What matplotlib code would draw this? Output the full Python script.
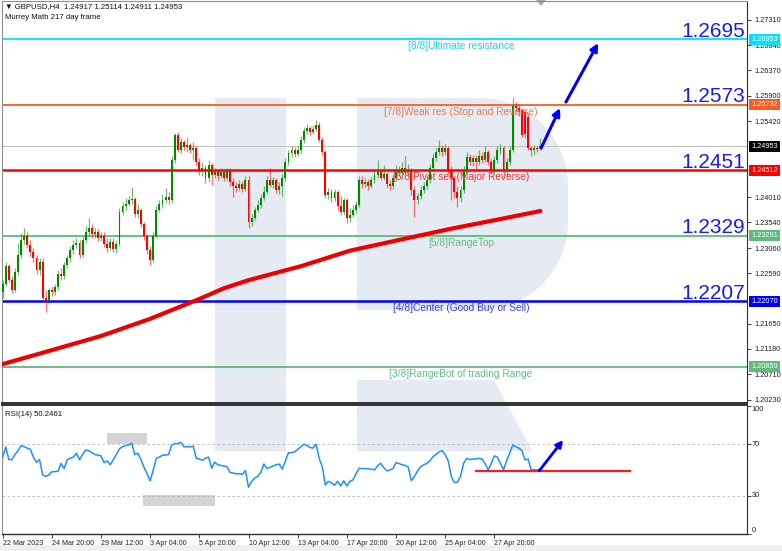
import matplotlib.pyplot as plt
import numpy as np
from matplotlib.patches import Polygon, Rectangle
from matplotlib.transforms import blended_transform_factory

plt.rcParams['font.family'] = ['Liberation Sans', 'DejaVu Sans']

# ---- GBPUSD H4 candles (22 Mar 2023 04:00 onwards) ----
opens = [
    1.2224, 1.2239, 1.2272, 1.2246, 1.2228, 1.2261, 1.2293, 1.2321, 1.2328, 1.2312,
    1.2299, 1.2287, 1.2265, 1.2280, 1.2213, 1.2209, 1.2228, 1.2224, 1.2233, 1.2258,
    1.2254, 1.2274, 1.2287, 1.2302, 1.2312, 1.2315, 1.2293, 1.2321, 1.2336, 1.2343,
    1.2332, 1.2336, 1.2325, 1.2328, 1.2314, 1.2306, 1.2317, 1.2304, 1.2314, 1.2373,
    1.2384, 1.2388, 1.2395, 1.2397, 1.2369, 1.2377, 1.2351, 1.2328, 1.2302, 1.2284,
    1.2328, 1.2377, 1.2388, 1.2395, 1.2401, 1.2395, 1.2470, 1.2517, 1.2489, 1.2504,
    1.2494, 1.2498, 1.2489, 1.2492, 1.2466, 1.2451, 1.2455, 1.2437, 1.2461, 1.2442,
    1.2448, 1.2440, 1.2448, 1.2437, 1.2451, 1.2429, 1.2422, 1.2418, 1.2425, 1.2416,
    1.2433, 1.2354, 1.2362, 1.2377, 1.2386, 1.2399, 1.2410, 1.2433, 1.2423, 1.2433,
    1.2414, 1.2422, 1.2437, 1.2466, 1.2483, 1.2489, 1.2481, 1.2489, 1.2507, 1.2524,
    1.2530, 1.2522, 1.2528, 1.2536, 1.2507, 1.2485, 1.2405, 1.2410, 1.2399, 1.2410,
    1.2384, 1.2373, 1.2395, 1.2362, 1.2367, 1.2377, 1.2386, 1.2433, 1.2425, 1.2429,
    1.2422, 1.2433, 1.2442, 1.2448, 1.2437, 1.2444, 1.2425, 1.2422, 1.2437, 1.2451,
    1.2446, 1.2455, 1.2448, 1.2451, 1.2414, 1.2395, 1.2403, 1.2414, 1.2422, 1.2433,
    1.2455, 1.2474, 1.2485, 1.2492, 1.2485, 1.2492, 1.2451, 1.2437, 1.2410, 1.2399,
    1.2414, 1.2451, 1.2476, 1.2466, 1.2474, 1.2466, 1.2478, 1.2470, 1.2485, 1.2466,
    1.2451, 1.2470, 1.2489, 1.2492, 1.2451, 1.2466, 1.2489, 1.2571, 1.2567, 1.2563,
    1.2560, 1.2550, 1.2492, 1.2489, 1.2492, 1.24917,
]
highs = [
    1.2246, 1.2280, 1.2276, 1.2254, 1.2269, 1.2315, 1.2334, 1.2343, 1.2336, 1.2321,
    1.2306, 1.2293, 1.2287, 1.2287, 1.2228, 1.2231, 1.2235, 1.2239, 1.2265, 1.2269,
    1.2280, 1.2293, 1.2310, 1.2321, 1.2325, 1.2321, 1.2328, 1.2347, 1.2362, 1.2351,
    1.2343, 1.2341, 1.2336, 1.2336, 1.2325, 1.2325, 1.2325, 1.2321, 1.2380, 1.2392,
    1.2399, 1.2403, 1.2420, 1.2401, 1.2388, 1.2380, 1.2354, 1.2332, 1.2310, 1.2336,
    1.2384, 1.2395, 1.2407, 1.2418, 1.2410, 1.2478, 1.2521, 1.2522, 1.2511, 1.2507,
    1.2513, 1.2502, 1.2504, 1.2496, 1.2474, 1.2466, 1.2461, 1.2470, 1.2465, 1.2455,
    1.2451, 1.2455, 1.2451, 1.2455, 1.2455, 1.2437, 1.2429, 1.2433, 1.2431, 1.2440,
    1.2440, 1.2369, 1.2382, 1.2395, 1.2407, 1.2422, 1.2440, 1.2455, 1.2438, 1.2437,
    1.2429, 1.2444, 1.2474, 1.2489, 1.2496, 1.2494, 1.2496, 1.2515, 1.2532, 1.2538,
    1.2534, 1.2536, 1.2545, 1.2540, 1.2513, 1.2489, 1.2418, 1.2416, 1.2416, 1.2414,
    1.2403, 1.2399, 1.2399, 1.2380, 1.2386, 1.2394, 1.2440, 1.2440, 1.2437, 1.2435,
    1.2438, 1.2451, 1.2470, 1.2453, 1.2461, 1.2448, 1.2433, 1.2442, 1.2461, 1.2459,
    1.2466, 1.2478, 1.2463, 1.2455, 1.2422, 1.2408, 1.2422, 1.2429, 1.2440, 1.2463,
    1.2483, 1.2492, 1.2507, 1.2498, 1.2500, 1.2496, 1.2459, 1.2442, 1.2422, 1.2422,
    1.2459, 1.2485, 1.2481, 1.2479, 1.2479, 1.2489, 1.2485, 1.2496, 1.2489, 1.2474,
    1.2478, 1.2496, 1.2500, 1.2496, 1.2474, 1.2496, 1.2588, 1.2578, 1.2575, 1.2567,
    1.2563, 1.2558, 1.2496, 1.2498, 1.2496, 1.25114,
]
lows = [
    1.2213, 1.2235, 1.2243, 1.2222, 1.2224, 1.2256, 1.2287, 1.2314, 1.2306, 1.2291,
    1.2280, 1.2258, 1.2256, 1.2205, 1.2187, 1.2202, 1.2216, 1.2218, 1.2228, 1.2246,
    1.2248, 1.2269, 1.2280, 1.2295, 1.2306, 1.2287, 1.2289, 1.2315, 1.2328, 1.2325,
    1.2325, 1.2319, 1.2319, 1.2308, 1.2299, 1.2302, 1.2299, 1.2297, 1.2310, 1.2367,
    1.2377, 1.2384, 1.2388, 1.2364, 1.2362, 1.2345, 1.2321, 1.2295, 1.2274, 1.2280,
    1.2325, 1.2373, 1.2380, 1.2390, 1.2388, 1.2390, 1.2465, 1.2485, 1.2483, 1.2489,
    1.2485, 1.2483, 1.2470, 1.2461, 1.2442, 1.2440, 1.2427, 1.2429, 1.2423, 1.2437,
    1.2433, 1.2437, 1.2431, 1.2433, 1.2422, 1.2401, 1.2410, 1.2412, 1.2410, 1.2412,
    1.2343, 1.2347, 1.2358, 1.2373, 1.2380, 1.2395, 1.2407, 1.2420, 1.2418, 1.2408,
    1.2407, 1.2403, 1.2431, 1.2461, 1.2476, 1.2476, 1.2478, 1.2483, 1.2502, 1.2519,
    1.2517, 1.2519, 1.2524, 1.2504, 1.2479, 1.2399, 1.2397, 1.2392, 1.2394, 1.2377,
    1.2367, 1.2367, 1.2353, 1.2354, 1.2364, 1.2371, 1.2382, 1.2418, 1.2420, 1.2414,
    1.2418, 1.2427, 1.2437, 1.2433, 1.2433, 1.2418, 1.2414, 1.2416, 1.2431, 1.2440,
    1.2440, 1.2442, 1.2440, 1.2405, 1.2364, 1.2388, 1.2397, 1.2408, 1.2416, 1.2427,
    1.2451, 1.2468, 1.2479, 1.2478, 1.2479, 1.2444, 1.2395, 1.2399, 1.2382, 1.2392,
    1.2408, 1.2446, 1.2461, 1.2459, 1.2451, 1.2461, 1.2465, 1.2466, 1.2461, 1.2444,
    1.2446, 1.2465, 1.2481, 1.2442, 1.2440, 1.2461, 1.2485, 1.2560, 1.2552, 1.2513,
    1.2511, 1.2489, 1.2478, 1.2479, 1.2485, 1.24911,
]
closes = [
    1.2239, 1.2272, 1.2246, 1.2228, 1.2261, 1.2293, 1.2321, 1.2328, 1.2312, 1.2299,
    1.2287, 1.2265, 1.2280, 1.2213, 1.2209, 1.2228, 1.2224, 1.2233, 1.2258, 1.2254,
    1.2274, 1.2287, 1.2302, 1.2312, 1.2315, 1.2293, 1.2321, 1.2336, 1.2343, 1.2332,
    1.2336, 1.2325, 1.2328, 1.2314, 1.2306, 1.2317, 1.2304, 1.2314, 1.2373, 1.2384,
    1.2388, 1.2395, 1.2397, 1.2369, 1.2377, 1.2351, 1.2328, 1.2302, 1.2284, 1.2328,
    1.2377, 1.2388, 1.2395, 1.2401, 1.2395, 1.2470, 1.2517, 1.2489, 1.2504, 1.2494,
    1.2498, 1.2489, 1.2492, 1.2466, 1.2451, 1.2455, 1.2437, 1.2461, 1.2442, 1.2448,
    1.2440, 1.2448, 1.2437, 1.2451, 1.2429, 1.2422, 1.2418, 1.2425, 1.2416, 1.2433,
    1.2354, 1.2362, 1.2377, 1.2386, 1.2399, 1.2410, 1.2433, 1.2423, 1.2433, 1.2414,
    1.2422, 1.2437, 1.2466, 1.2483, 1.2489, 1.2481, 1.2489, 1.2507, 1.2524, 1.2530,
    1.2522, 1.2528, 1.2536, 1.2507, 1.2485, 1.2405, 1.2410, 1.2399, 1.2410, 1.2384,
    1.2373, 1.2395, 1.2362, 1.2367, 1.2377, 1.2386, 1.2433, 1.2425, 1.2429, 1.2422,
    1.2433, 1.2442, 1.2448, 1.2437, 1.2444, 1.2425, 1.2422, 1.2437, 1.2451, 1.2446,
    1.2455, 1.2448, 1.2451, 1.2414, 1.2395, 1.2403, 1.2414, 1.2422, 1.2433, 1.2455,
    1.2474, 1.2485, 1.2492, 1.2485, 1.2492, 1.2451, 1.2437, 1.2410, 1.2399, 1.2414,
    1.2451, 1.2476, 1.2466, 1.2474, 1.2466, 1.2478, 1.2470, 1.2485, 1.2466, 1.2451,
    1.2470, 1.2489, 1.2492, 1.2451, 1.2466, 1.2489, 1.2571, 1.2567, 1.2560, 1.2517,
    1.2519, 1.2492, 1.2489, 1.2492, 1.2491, 1.24953,
]

# moving average (thick red), sampled at these bars
ma_bars = [-1, 15, 32, 48, 64, 72, 80, 97, 113, 129, 146, 162, 175]
ma_vals = [1.2088, 1.2114, 1.2142, 1.2174, 1.2211, 1.2231, 1.2246, 1.2272,
           1.2301, 1.2321, 1.2342, 1.2360, 1.2375]

# RSI(14)
rsi = [
    60, 68, 58, 58, 62, 65, 69, 68, 67, 66,
    60, 56, 58, 46, 45, 46, 48.6, 48.6, 49, 55,
    51, 58, 59, 60, 63, 58, 62, 65.5, 65, 63.5,
    62, 61.5, 61, 55.6, 57, 54, 58, 62, 66.5, 68,
    69, 69.5, 70.7, 62, 63, 58, 52, 47, 41.4, 50,
    59, 60, 61.5, 61.5, 62, 69.4, 70.5, 70.5, 71.5, 68,
    68, 68, 68.5, 59, 58.5, 57.5, 59, 60, 51.3, 56,
    54, 53.5, 53, 52.5, 48, 47.5, 47, 47, 46.5, 49.5,
    36.5, 41, 43.5, 45, 48, 54.6, 51, 52, 53, 54,
    54.5, 50.5, 57, 63.4, 63.5, 64, 66, 68, 70, 69,
    67.5, 67, 70, 59, 52.5, 38.3, 41, 40, 38, 41,
    37.5, 41.5, 37.5, 41, 42.2, 47, 51.3, 51, 51, 51,
    50.5, 50, 53, 55.2, 52, 49.2, 50, 51, 55.6, 55,
    54, 53.5, 52, 41.6, 45, 49, 52.5, 54, 55, 57,
    60, 62, 64, 65, 62, 57, 44.8, 40.1, 40.5, 45,
    55, 59.1, 58, 58.5, 58.5, 59, 58.5, 55, 50, 55,
    60.9, 60, 55, 50, 57, 63, 69.4, 68, 67, 65,
    57.7, 58.5, 50, 50, 50, 50.25,
]
rsi_levels = [70, 30]
rsi_ticks = [100, 70, 30, 0]

# Murrey Math levels
mm_levels = [1.26953, 1.25732, 1.24512, 1.23291, 1.22070, 1.20850]
mm_names = ['[8/8]Ultimate resistance', '[7/8]Weak res (Stop and Reverse)',
            '[6/8]Pivot sell (Major Reverse)', '[5/8]RangeTop',
            '[4/8]Center (Good Buy or Sell)', '[3/8]RangeBot of trading Range']
mm_big = ['1.2695', '1.2573', '1.2451', '1.2329', '1.2207', '']
mm_colors = ['#00e2ff', '#ff5a1e', '#ff0000', '#5dbb7c', '#0000ff', '#5dbb7c']
mm_text_colors = ['#1ed2f0', '#f07a52', '#f03a3a', '#5fbf82', '#3a3aff', '#5fbf82']
mm_widths = [1.3, 1.3, 1.8, 1.3, 1.8, 1.3]
last_price = 1.24953

price_ticks = [1.27310, 1.26840, 1.26370, 1.25900, 1.25420, 1.24010, 1.23540,
               1.23060, 1.22590, 1.21650, 1.21180, 1.20710, 1.20230]
date_labels = ['22 Mar 2023', '24 Mar 20:00', '29 Mar 12:00', '3 Apr 04:00',
               '5 Apr 20:00', '10 Apr 12:00', '13 Apr 04:00', '17 Apr 20:00',
               '20 Apr 12:00', '25 Apr 04:00', '27 Apr 20:00']
date_step = 16

# forecast arrows (bar, price) and RSI support
arrow1 = ((175.2, 1.2492), (181.4, 1.2567))
arrow2 = ((183.3, 1.2578), (193.8, 1.2688))
rsi_arrow = ((174.6, 49.2), (182.4, 73.3))
rsi_support = ((154, 204), 49.4)

W, H = 782, 551
fig = plt.figure(figsize=(W / 100, H / 100), dpi=100)
fig.patch.set_facecolor('white')


def frame(left, top, right, bottom):
    return [left / W, 1 - bottom / H, (right - left) / W, (bottom - top) / H]


# watermark layer in pixel coordinates
bg = fig.add_axes([0, 0, 1, 1], zorder=-1)
bg.set_xlim(0, W)
bg.set_ylim(H, 0)
bg.axis('off')
logo = '#e5eaf3'
bg.add_patch(Rectangle((215, 98), 71, 353, color=logo, lw=0))
top_arc = [(480 + 88 * np.cos(a), 186 - 88 * np.sin(a)) for a in np.linspace(np.pi / 2, 0, 20)]
bot_arc = [(480 + 88 * np.cos(a), 222 - 88 * np.sin(a)) for a in np.linspace(0, -np.pi / 2, 20)]
bowl = [(357, 98)] + top_arc + bot_arc + [(357, 310)]
bg.add_patch(Polygon(bowl, closed=True, color=logo, lw=0))
bg.add_patch(Polygon([(357, 380), (494, 380), (532, 451), (357, 451)], closed=True, color=logo, lw=0))
bg.add_patch(Polygon([(536, 0), (546, 0), (541, 6)], closed=True, color='#a8a8a8', lw=0))
bg.add_patch(Rectangle((0, 545), W, 6, color='#f0f0f0', lw=0))

ax = fig.add_axes(frame(2, 1, 747, 403))
rax = fig.add_axes(frame(2, 405, 747, 534))
for a in (ax, rax):
    a.set_facecolor('none')
    a.set_xlim(-0.23, 242.24)
    for s in ('left', 'top'):
        a.spines[s].set_color('#909090')
        a.spines[s].set_linewidth(0.8)
    a.spines['right'].set_color('#303030')
    a.spines['right'].set_linewidth(0.8)
    a.spines['bottom'].set_color('#303030')
    a.spines['bottom'].set_linewidth(1.0)
ax.spines['bottom'].set_linewidth(1.4)
rax.spines['top'].set_color('#303030')
rax.spines['top'].set_linewidth(1.4)

ax.set_ylim(1.20171, 1.27664)

# Murrey lines and labels
yblend = blended_transform_factory(ax.transAxes, ax.transData)
ax.axhline(last_price, color='#c4c4c4', lw=0.8, zorder=1)
for lvl, name, big, col, tcol, lw in zip(mm_levels, mm_names, mm_big, mm_colors, mm_text_colors, mm_widths):
    ax.axhline(lvl, color=col, lw=lw, zorder=2)
    ax.annotate(name, xy=(149.2, lvl), xytext=(0, -1.5), textcoords='offset points',
                ha='center', va='top', fontsize=7.3, color=tcol, zorder=6)
    if big:
        ax.annotate(big, xy=(1, lvl), xycoords=yblend, xytext=(-1.5, 1.6),
                    textcoords='offset points', ha='right', va='baseline',
                    fontsize=15, color='#1a1aff', zorder=6)

# candles
x = np.arange(len(closes))
o = np.array(opens)
c = np.array(closes)
up = c >= o
body_col = np.where(up, '#008a00', '#ff0000')
ax.vlines(x, lows, highs, colors=body_col, lw=0.9, alpha=0.55, zorder=3)
height = np.maximum(np.abs(c - o), 0.00012)
ax.bar(x, height, bottom=np.minimum(o, c), width=0.62, color=body_col, lw=0, zorder=4)

# moving average
ax.plot(ma_bars, ma_vals, color='#ee0000', lw=3.0, solid_capstyle='round',
        solid_joinstyle='round', zorder=5)

# forecast arrows
for start, end in (arrow1, arrow2):
    ax.annotate('', xy=end, xytext=start,
                arrowprops=dict(arrowstyle='-|>', color='#0000ff', lw=2.2,
                                mutation_scale=11, shrinkA=0, shrinkB=0), zorder=7)

# price axis
ax.yaxis.tick_right()
ax.set_yticks(price_ticks)
ax.set_yticklabels(['%.5f' % v for v in price_ticks])
ax.tick_params(axis='y', length=3, width=0.6, pad=2, labelsize=5.3, colors='#202020')
ax.tick_params(axis='x', bottom=False, labelbottom=False)
for lvl, col in zip(mm_levels + [last_price], mm_colors + ['#000000']):
    ax.text(1.0055, lvl, '%.5f' % lvl, transform=yblend, ha='left', va='center',
            fontsize=5.3, color='white', zorder=8, clip_on=False,
            bbox=dict(boxstyle='square,pad=0.28', fc=col, ec='none'))

ax.text(0.004, 0.995, '\u25bc GBPUSD,H4  1.24917 1.25114 1.24911 1.24953',
        transform=ax.transAxes, ha='left', va='top', fontsize=5.6, color='#101010')
ax.text(0.004, 0.968, 'Murrey Math 217 day frame', transform=ax.transAxes,
        ha='left', va='top', fontsize=5.6, color='#101010')

# RSI panel
rax.set_ylim(0, 100.6)
rblend = blended_transform_factory(rax.transAxes, rax.transData)
rax.add_patch(Rectangle((33.9, 70.2), 13.1, 8.6, color='#d4d4d4', lw=0, zorder=1))
rax.add_patch(Rectangle((45.7, 21.6), 23.4, 8.9, color='#d4d4d4', lw=0, zorder=1))
for lvl in rsi_levels:
    rax.axhline(lvl, color='#b4b4b4', lw=0.6, ls=(0, (3, 3)), zorder=1)
rax.plot(x, rsi, color='#1e90ff', lw=1.1, zorder=3)
rax.plot(rsi_support[0], [rsi_support[1]] * 2, color='#ff1a1a', lw=1.6, zorder=4)
rax.annotate('', xy=rsi_arrow[1], xytext=rsi_arrow[0],
             arrowprops=dict(arrowstyle='-|>', color='#0000ff', lw=2.0,
                             mutation_scale=10, shrinkA=0, shrinkB=0), zorder=5)
rax.yaxis.tick_right()
rax.set_yticks(rsi_ticks)
rax.set_yticklabels([])
rax.tick_params(axis='y', length=3, width=0.6, colors='#202020')
for v in rsi_ticks:
    va = 'top' if v == 100 else ('bottom' if v == 0 else 'center')
    rax.text(1.006, v, str(v), transform=rblend, ha='left', va=va,
             fontsize=5.3, color='#202020', clip_on=False)
rax.text(0.004, 0.95, 'RSI(14) 50.2461', transform=rax.transAxes,
         ha='left', va='top', fontsize=5.6, color='#101010')

rax.set_xticks(np.arange(len(date_labels)) * date_step)
rax.set_xticklabels(date_labels, ha='left')
rax.tick_params(axis='x', length=3, width=0.6, pad=1.5, labelsize=5.1, colors='#202020')

fig.savefig('out.png', dpi=100)
